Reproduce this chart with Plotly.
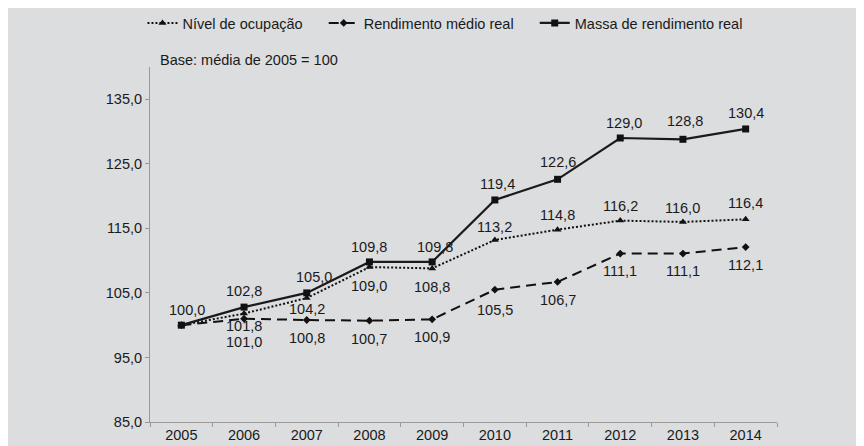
import plotly.graph_objects as go

years = ["2005", "2006", "2007", "2008", "2009", "2010", "2011", "2012", "2013", "2014"]
nivel = [100.0, 101.8, 104.2, 109.0, 108.8, 113.2, 114.8, 116.2, 116.0, 116.4]
rendimento = [100.0, 101.0, 100.8, 100.7, 100.9, 105.5, 106.7, 111.1, 111.1, 112.1]
massa = [100.0, 102.8, 105.0, 109.8, 109.8, 119.4, 122.6, 129.0, 128.8, 130.4]

y_ticks = [85, 95, 105, 115, 125, 135]
y_ticklabels = ["85,0", "95,0", "105,0", "115,0", "125,0", "135,0"]

# label vertical offsets in px (negative = above the marker); None = no label
nivel_dy = [None, 12, 11, 19, 19, -13, -15, -15, -14, -16]
rend_dy = [None, 23, 18, 18, 18, 20, 18, 17, 17, 18]
massa_dy = [-15, -16, -16, -15, -15, -16, -17, -15, -18, -16]
massa_dx = [6, 0, 7, 0, 3, 3, 0, 4, 2, 0]

FONT = "Liberation Sans, Arial, sans-serif"
TXT = "#1a1a1a"
FS = 14.5
NB = "\u00a0" * 4

fig = go.Figure()
fig.add_trace(go.Scatter(
    x=years, y=nivel, name="Nível de ocupação" + NB, mode="lines+markers",
    line=dict(color="#111111", width=2, dash="2px,2px"),
    marker=dict(symbol="triangle-up", size=7, color="#111111"),
))
fig.add_trace(go.Scatter(
    x=years, y=rendimento, name="Rendimento médio real" + NB, mode="lines+markers",
    line=dict(color="#111111", width=2, dash="10px,6px"),
    marker=dict(symbol="diamond", size=6, color="#111111"),
))
fig.add_trace(go.Scatter(
    x=years, y=massa, name="Massa de rendimento real", mode="lines+markers",
    line=dict(color="#1a1a1a", width=2.2),
    marker=dict(symbol="square", size=7, color="#111111"),
))


def fmt(v):
    return f"{v:.1f}".replace(".", ",")


annotations = []
for series, dys, dxs in [(nivel, nivel_dy, None), (rendimento, rend_dy, None), (massa, massa_dy, massa_dx)]:
    for i, v in enumerate(series):
        dy = dys[i]
        if dy is None:
            continue
        annotations.append(dict(
            x=i, y=v, xref="x", yref="y", text=fmt(v), showarrow=False,
            xanchor="center", yanchor="middle",
            yshift=-dy, xshift=(dxs[i] if dxs else 0),
            font=dict(family=FONT, size=FS, color=TXT),
        ))

annotations.append(dict(
    x=0.0128, y=1.0197, xref="paper", yref="paper", text="Base: média de 2005 = 100",
    showarrow=False, xanchor="left", yanchor="middle",
    font=dict(family=FONT, size=FS, color=TXT),
))

# page has an 8px body margin; figure placed at (8, 8)
W, H = 856, 438
L, T = 142, 59
pw, ph = 627, 355
R, B = W - L - pw, H - T - ph

fig.update_layout(
    width=W, height=H,
    margin=dict(l=L, r=R, t=T, b=B, pad=0, autoexpand=False),
    paper_bgcolor="#dcdddf",
    plot_bgcolor="#dcdddf",
    font=dict(family=FONT, size=FS, color=TXT),
    showlegend=True,
    legend=dict(
        orientation="h", x=-0.012, xanchor="left", y=(ph + T - 15) / ph, yanchor="middle",
        bgcolor="rgba(0,0,0,0)", font=dict(family=FONT, size=FS, color=TXT),
        itemwidth=30, tracegroupgap=0,
    ),
    annotations=annotations,
    xaxis=dict(
        type="category", showgrid=False, zeroline=False, automargin=False,
        showline=True, linecolor="#9a9a9a", linewidth=1,
        ticks="outside", ticklen=4, tickcolor="#9a9a9a", tickson="boundaries",
        tickfont=dict(family=FONT, size=FS, color=TXT),
        range=[-0.5, 9.5],
    ),
    yaxis=dict(
        range=[85, 140], showgrid=False, zeroline=False, automargin=False,
        showline=True, linecolor="#9a9a9a", linewidth=1,
        ticks="outside", ticklen=4, tickcolor="#9a9a9a",
        tickvals=y_ticks, ticktext=y_ticklabels,
        tickfont=dict(family=FONT, size=FS, color=TXT),
    ),
)

fig.write_html("out.html")
